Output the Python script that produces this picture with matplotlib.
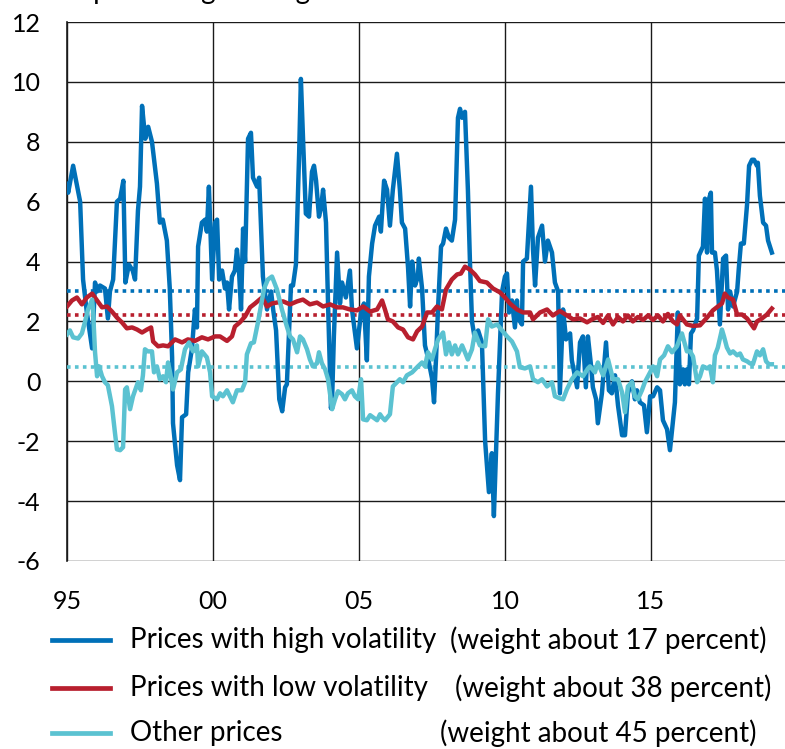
import matplotlib
matplotlib.use("Agg")
import matplotlib.pyplot as plt
from matplotlib.lines import Line2D

plt.rcParams['font.family'] = ['Lato', 'DejaVu Sans']
plt.rcParams['axes.unicode_minus'] = False

# ---- data (decimal years, percent) ----
high_t = [1995.00, 1995.04, 1995.21, 1995.45, 1995.55, 1995.68, 1995.86, 1995.96, 1996.03, 1996.13,
          1996.30, 1996.40, 1996.47, 1996.58, 1996.71, 1996.82, 1996.93, 1997.00, 1997.12, 1997.25,
          1997.33, 1997.43, 1997.50, 1997.57, 1997.68, 1997.78, 1997.91, 1998.08, 1998.18, 1998.28,
          1998.42, 1998.52, 1998.60, 1998.63, 1998.77, 1998.87, 1998.94, 1999.08, 1999.15, 1999.28,
          1999.38, 1999.45, 1999.49, 1999.62, 1999.73, 1999.79, 1999.86, 1999.97, 2000.07, 2000.14,
          2000.21, 2000.31, 2000.41, 2000.48, 2000.55, 2000.65, 2000.75, 2000.82, 2000.89, 2000.96,
          2001.03, 2001.10, 2001.20, 2001.30, 2001.37, 2001.51, 2001.58, 2001.71, 2001.85, 2001.99,
          2002.06, 2002.16, 2002.27, 2002.37, 2002.47, 2002.53, 2002.67, 2002.74, 2002.84, 2002.95,
          2003.01, 2003.08, 2003.18, 2003.29, 2003.39, 2003.46, 2003.53, 2003.63, 2003.70, 2003.77,
          2003.87, 2003.94, 2004.04, 2004.08, 2004.14, 2004.25, 2004.35, 2004.42, 2004.55, 2004.69,
          2004.76, 2004.93, 2005.07, 2005.17, 2005.27, 2005.34, 2005.45, 2005.55, 2005.69, 2005.75,
          2005.86, 2005.96, 2006.06, 2006.16, 2006.30, 2006.40, 2006.47, 2006.58, 2006.68, 2006.75,
          2006.82, 2006.92, 2007.02, 2007.05, 2007.16, 2007.26, 2007.36, 2007.50, 2007.57, 2007.64,
          2007.71, 2007.81, 2007.88, 2007.98, 2008.08, 2008.18, 2008.29, 2008.39, 2008.46, 2008.53,
          2008.63, 2008.73, 2008.80, 2008.87, 2008.97, 2009.08, 2009.21, 2009.32, 2009.45, 2009.55,
          2009.62, 2009.76, 2009.90, 2010.00, 2010.07, 2010.14, 2010.24, 2010.34, 2010.41, 2010.45,
          2010.58, 2010.62, 2010.75, 2010.89, 2010.96, 2011.03, 2011.13, 2011.27, 2011.37, 2011.47,
          2011.61, 2011.71, 2011.82, 2011.88, 2011.99, 2012.09, 2012.23, 2012.29, 2012.33, 2012.47,
          2012.57, 2012.67, 2012.77, 2012.84, 2012.95, 2013.01, 2013.12, 2013.18, 2013.32, 2013.46,
          2013.56, 2013.66, 2013.77, 2013.87, 2014.01, 2014.11, 2014.21, 2014.35, 2014.45, 2014.52,
          2014.62, 2014.76, 2014.86, 2014.97, 2015.07, 2015.21, 2015.31, 2015.41, 2015.55, 2015.65,
          2015.82, 2015.92, 2015.99, 2016.10, 2016.16, 2016.23, 2016.30, 2016.37, 2016.44, 2016.58,
          2016.64, 2016.78, 2016.85, 2016.92, 2016.99, 2017.05, 2017.09, 2017.19, 2017.26, 2017.36,
          2017.47, 2017.57, 2017.64, 2017.71, 2017.81, 2017.95, 2018.01, 2018.08, 2018.18, 2018.29,
          2018.36, 2018.46, 2018.53, 2018.63, 2018.66, 2018.73, 2018.84, 2018.94, 2019.01, 2019.14]
high_v = [6.6, 6.3, 7.2, 6.0, 3.4, 2.3, 1.1, 3.3, 3.0, 3.2,
          3.1, 2.1, 3.0, 3.4, 6.0, 6.1, 6.7, 3.3, 3.9, 3.7,
          3.4, 5.7, 6.5, 9.2, 8.1, 8.5, 8.0, 6.6, 5.3, 5.4,
          4.7, 3.1, 0.8, -1.4, -2.8, -3.3, -1.2, -1.1, 0.3, 1.1,
          2.4, 1.8, 4.5, 5.3, 5.4, 5.0, 6.5, 3.4, 5.3, 5.4,
          3.4, 3.7, 3.1, 3.3, 2.4, 3.5, 3.7, 4.4, 3.7, 2.4,
          5.1, 4.0, 8.1, 8.3, 6.8, 6.5, 6.8, 3.5, 2.4, 3.0,
          2.4, 1.7, -0.6, -1.0, -0.2, -0.1, 3.2, 3.2, 3.9, 7.6,
          10.1, 8.2, 5.6, 5.5, 7.0, 7.2, 6.7, 5.5, 5.8, 6.4,
          5.3, 2.6, -0.9, -0.6, 1.5, 4.3, 2.6, 3.3, 2.8, 3.7,
          2.4, 1.1, 2.3, 2.6, 0.7, 3.5, 4.6, 5.2, 5.5, 5.0,
          6.7, 6.4, 5.2, 6.4, 7.6, 6.4, 5.3, 5.1, 3.8, 2.5,
          4.0, 3.2, 3.5, 4.1, 3.1, 1.2, 0.8, 0.1, -0.7, 0.8,
          2.5, 4.5, 4.6, 5.1, 4.8, 4.7, 5.4, 8.8, 9.1, 8.8,
          9.0, 6.4, 4.0, 2.0, 1.4, 1.7, 1.3, -2.0, -3.7, -2.4,
          -4.5, -0.4, 3.0, 3.5, 3.6, 2.3, 2.7, 1.8, 2.7, 2.1,
          1.9, 4.0, 4.1, 6.5, 4.4, 3.2, 4.8, 5.2, 4.0, 4.7,
          4.3, 3.3, 3.0, -0.4, 2.4, 1.4, 1.6, 0.7, 0.5, -0.2,
          1.3, 1.5, -0.2, 1.5, 0.5, -0.2, -0.6, -1.4, -0.4, 1.3,
          -0.3, -0.4, 0.2, -0.8, -1.8, -1.8, -0.4, 0.0, -0.6, -0.3,
          -0.7, -0.8, -1.7, -0.5, -0.5, -0.2, -0.3, -1.3, -1.6, -2.3,
          -0.7, 2.3, -0.1, 0.4, -0.1, 0.4, -0.1, 1.6, 1.7, 2.1,
          4.2, 4.5, 6.1, 4.3, 6.1, 6.3, 4.3, 4.3, 3.7, 1.9,
          4.1, 4.2, 2.4, 3.0, 2.5, 3.0, 3.8, 4.6, 4.6, 5.9,
          7.2, 7.4, 7.4, 7.2, 7.3, 6.2, 5.3, 5.2, 4.7, 4.3]

low_t = [1995.00, 1995.17, 1995.34, 1995.51, 1995.68, 1995.86, 1996.03, 1996.20, 1996.37, 1996.54,
         1996.71, 1996.88, 1997.05, 1997.23, 1997.40, 1997.57, 1997.74, 1997.88, 1997.95, 1998.12,
         1998.29, 1998.46, 1998.70, 1998.94, 1999.14, 1999.38, 1999.62, 1999.83, 2000.07, 2000.24,
         2000.48, 2000.65, 2000.75, 2000.92, 2001.10, 2001.27, 2001.44, 2001.68, 2001.85, 2002.02,
         2002.19, 2002.40, 2002.64, 2002.88, 2003.08, 2003.32, 2003.56, 2003.77, 2004.01, 2004.25,
         2004.45, 2004.69, 2004.93, 2005.14, 2005.38, 2005.62, 2005.79, 2005.89, 2005.99, 2006.16,
         2006.34, 2006.51, 2006.68, 2006.85, 2006.99, 2007.16, 2007.33, 2007.50, 2007.67, 2007.84,
         2007.98, 2008.18, 2008.36, 2008.49, 2008.63, 2008.80, 2008.97, 2009.14, 2009.38, 2009.59,
         2009.83, 2010.00, 2010.17, 2010.41, 2010.62, 2010.86, 2010.96, 2011.20, 2011.44, 2011.64,
         2011.88, 2012.12, 2012.33, 2012.57, 2012.81, 2012.98, 2013.18, 2013.36, 2013.53, 2013.70,
         2013.87, 2014.04, 2014.21, 2014.38, 2014.55, 2014.73, 2014.90, 2015.07, 2015.24, 2015.41,
         2015.58, 2015.75, 2015.89, 2015.99, 2016.23, 2016.44, 2016.68, 2016.92, 2017.12, 2017.29,
         2017.43, 2017.53, 2017.64, 2017.81, 2017.95, 2018.12, 2018.29, 2018.46, 2018.53, 2018.63,
         2018.80, 2018.97, 2019.14]
low_v = [2.5, 2.7, 2.8, 2.57, 2.8, 2.93, 2.7, 2.47, 2.5, 2.33,
         2.13, 1.97, 1.77, 1.8, 1.73, 1.63, 1.73, 1.8, 1.33, 1.17,
         1.2, 1.17, 1.4, 1.3, 1.4, 1.35, 1.47, 1.4, 1.5, 1.5,
         1.35, 1.5, 1.83, 1.97, 2.17, 2.47, 2.6, 2.8, 2.5, 2.6,
         2.63, 2.67, 2.57, 2.67, 2.73, 2.57, 2.63, 2.5, 2.57, 2.47,
         2.47, 2.4, 2.37, 2.5, 2.33, 2.4, 2.7, 2.4, 2.07, 2.0,
         1.8, 1.73, 1.47, 1.4, 1.67, 1.83, 2.3, 2.3, 2.5, 2.4,
         3.07, 3.4, 3.57, 3.6, 3.83, 3.73, 3.57, 3.35, 3.3, 3.1,
         2.97, 2.8, 2.6, 2.4, 2.3, 2.3, 2.07, 2.3, 2.4, 2.2,
         2.35, 2.2, 2.07, 2.1, 1.97, 2.07, 2.15, 1.95, 2.2, 1.9,
         2.15, 2.0, 2.2, 2.0, 2.15, 2.05, 2.2, 2.05, 2.2, 2.0,
         2.25, 2.0, 1.9, 2.2, 1.9, 1.85, 1.87, 2.13, 2.37, 2.5,
         2.6, 2.93, 2.8, 2.73, 2.23, 2.23, 2.1, 1.87, 1.77, 2.0,
         2.1, 2.23, 2.43]

other_t = [1995.00, 1995.10, 1995.21, 1995.38, 1995.51, 1995.62, 1995.72, 1995.86, 1995.89, 1995.96,
           1996.03, 1996.10, 1996.20, 1996.30, 1996.40, 1996.54, 1996.64, 1996.71, 1996.82, 1996.92,
           1996.99, 1997.05, 1997.16, 1997.26, 1997.43, 1997.53, 1997.60, 1997.67, 1997.77, 1997.91,
           1997.98, 1998.08, 1998.18, 1998.29, 1998.39, 1998.46, 1998.53, 1998.63, 1998.77, 1998.90,
           1999.04, 1999.18, 1999.32, 1999.45, 1999.49, 1999.62, 1999.79, 1999.90, 1999.97, 2000.14,
           2000.24, 2000.34, 2000.48, 2000.58, 2000.68, 2000.82, 2000.99, 2001.10, 2001.16, 2001.30,
           2001.40, 2001.54, 2001.64, 2001.75, 2001.88, 2002.02, 2002.19, 2002.36, 2002.53, 2002.64,
           2002.74, 2002.88, 2002.98, 2003.08, 2003.22, 2003.32, 2003.42, 2003.56, 2003.63, 2003.73,
           2003.84, 2003.94, 2004.08, 2004.18, 2004.28, 2004.42, 2004.52, 2004.62, 2004.76, 2004.86,
           2004.97, 2005.07, 2005.14, 2005.27, 2005.38, 2005.48, 2005.62, 2005.72, 2005.79, 2005.89,
           2006.06, 2006.16, 2006.30, 2006.40, 2006.51, 2006.64, 2006.82, 2006.92, 2007.02, 2007.16,
           2007.26, 2007.36, 2007.50, 2007.60, 2007.71, 2007.88, 2007.98, 2008.08, 2008.18, 2008.29,
           2008.39, 2008.53, 2008.63, 2008.73, 2008.87, 2008.97, 2009.14, 2009.32, 2009.42, 2009.55,
           2009.73, 2009.90, 2010.07, 2010.24, 2010.41, 2010.51, 2010.68, 2010.86, 2010.96, 2011.13,
           2011.27, 2011.44, 2011.61, 2011.71, 2011.88, 2011.99, 2012.12, 2012.29, 2012.47, 2012.67,
           2012.84, 2012.91, 2013.08, 2013.18, 2013.36, 2013.53, 2013.70, 2013.87, 2014.01, 2014.11,
           2014.21, 2014.35, 2014.45, 2014.55, 2014.69, 2014.79, 2014.97, 2015.07, 2015.21, 2015.31,
           2015.45, 2015.58, 2015.72, 2015.89, 2016.06, 2016.23, 2016.34, 2016.44, 2016.58, 2016.68,
           2016.78, 2016.92, 2017.02, 2017.12, 2017.19, 2017.29, 2017.43, 2017.50, 2017.60, 2017.71,
           2017.81, 2017.95, 2018.05, 2018.15, 2018.29, 2018.39, 2018.49, 2018.63, 2018.73, 2018.84,
           2018.94, 2019.04, 2019.14]
other_v = [1.57, 1.7, 1.47, 1.43, 1.6, 2.0, 2.4, 2.73, 2.4, 0.97,
           0.17, 0.5, 0.17, -0.03, -0.13, -0.83, -1.7, -2.27, -2.3, -2.2,
           -0.27, -0.2, -0.93, -0.5, -0.03, -0.3, 0.2, 1.07, 1.0, 1.0,
           0.3, 0.5, 0.07, 0.17, -0.03, 0.63, 0.3, -0.27, 0.3, 0.4,
           1.07, 1.3, 1.0, 1.2, 0.5, 1.0, 0.8, 0.3, -0.5, -0.6,
           -0.4, -0.5, -0.3, -0.5, -0.7, -0.3, -0.3, -0.03, 0.9, 1.27,
           1.3, 1.97, 2.5, 3.1, 3.4, 3.5, 3.07, 2.4, 1.83, 1.5,
           1.4, 0.97, 1.5, 1.4, 1.07, 0.73, 0.5, 0.6, 0.97, 0.6,
           0.4, 0.07, -0.93, -0.6, -0.33, -0.43, -0.6, -0.4, -0.3, -0.5,
           -0.6, 0.07, -1.27, -1.3, -1.13, -1.2, -1.3, -1.1, -1.2, -1.3,
           -1.1, -0.17, -0.03, 0.07, -0.03, 0.2, 0.3, 0.4, 0.5, 0.63,
           0.5, 0.97, 0.73, 1.07, 1.4, 1.63, 0.9, 1.3, 0.9, 1.2,
           0.9, 1.2, 0.97, 0.73, 1.07, 1.63, 1.2, 1.17, 2.07, 1.83,
           1.9, 1.7, 1.5, 1.33, 1.0, 0.47, 0.43, 0.5, 0.07, -0.03,
           0.07, -0.17, -0.03, -0.5, -0.57, -0.6, -0.27, 0.07, 0.3, 0.17,
           0.43, 0.5, 0.3, 0.63, 0.2, 0.73, 0.07, 0.07, -0.37, -1.03,
           -0.17, -0.03, -0.5, -0.6, -0.3, -0.03, 0.3, 0.5, 0.17, 0.73,
           0.87, 1.17, 0.97, 1.17, 1.6, 1.0, 1.0, 0.83, -0.03, 0.17,
           0.5, 0.43, 0.5, -0.03, 0.87, 1.13, 1.73, 1.5, 1.13, 0.93,
           1.0, 0.87, 0.93, 0.73, 0.67, 0.6, 0.57, 1.0, 0.87, 1.07,
           0.67, 0.57, 0.57]

# long-run averages (dotted lines)
high_mean = 3.03
low_mean = 2.2
other_mean = 0.47

x_ticks = [1995, 2000, 2005, 2010, 2015]
x_ticklabels = ["95", "00", "05", "10", "15"]
y_ticks = [-6, -4, -2, 0, 2, 4, 6, 8, 10, 12]

header = "Annual percentage change"
series_names = ["Prices with high volatility", "Prices with low volatility", "Other prices"]
weight_labels = ["(weight about 17 percent)", "(weight about 38 percent)", "(weight about 45 percent)"]

c_high = "#0070B8"
c_low = "#B81F2E"
c_other = "#5BC2D1"

W, H = 785, 749
fig = plt.figure(figsize=(W / 100, H / 100), dpi=100)
ax = fig.add_axes([67 / W, 1 - 561 / H, (W - 67) / W, (561 - 22) / H])

ax.set_xlim(1995, 2019.59)
ax.set_ylim(-6, 12)

lw = 3.2
ax.plot(high_t, high_v, color=c_high, lw=lw, zorder=4, solid_joinstyle='round')
ax.plot(low_t, low_v, color=c_low, lw=lw, zorder=5, solid_joinstyle='round')
ax.plot(other_t, other_v, color=c_other, lw=lw, zorder=6, solid_joinstyle='round')

dot = (0, (1, 1.2))
ax.axhline(high_mean, color=c_high, lw=2.6, linestyle=dot, zorder=3)
ax.axhline(low_mean, color=c_low, lw=2.6, linestyle=dot, zorder=3)
ax.axhline(other_mean, color=c_other, lw=2.6, linestyle=dot, zorder=3)

ax.set_xticks(x_ticks)
ax.set_xticklabels(x_ticklabels)
ax.set_yticks(y_ticks)
ax.grid(True, color="#1a1a1a", lw=1.0, zorder=1)
ax.set_axisbelow(True)
ax.tick_params(length=0, labelsize=18)
ax.tick_params(axis='y', pad=19)
ax.tick_params(axis='x', pad=21)
for s in ["right", "bottom", "top"]:
    ax.spines[s].set_visible(False)
ax.spines["left"].set_color("#1a1a1a")
ax.spines["left"].set_linewidth(1.2)

# clipped header at the very top: only the descenders show, as in the source
fig.canvas.draw()
r = fig.canvas.get_renderer()
probe = fig.text(0, 0, "Annual ", fontsize=20)
w_annual = probe.get_window_extent(renderer=r).width
probe.remove()
fig.text((93 - w_annual) / W, 1 + 1 / H, header, fontsize=20, va="baseline", ha="left")

# legend (manual layout)
rows_y = [640, 688, 733]
weight_x = [450, 455, 440]
colors = [c_high, c_low, c_other]
for name, wl, yy, wx, c in zip(series_names, weight_labels, rows_y, weight_x, colors):
    fy = 1 - yy / H
    fig.add_artist(Line2D([52 / W, 110 / W], [fy, fy], color=c, lw=3.4, transform=fig.transFigure))
    fig.text(130 / W, fy, name, fontsize=20, va="center", ha="left")
    fig.text(wx / W, fy, wl, fontsize=20, va="center", ha="left")

fig.savefig("out.png", dpi=100)
